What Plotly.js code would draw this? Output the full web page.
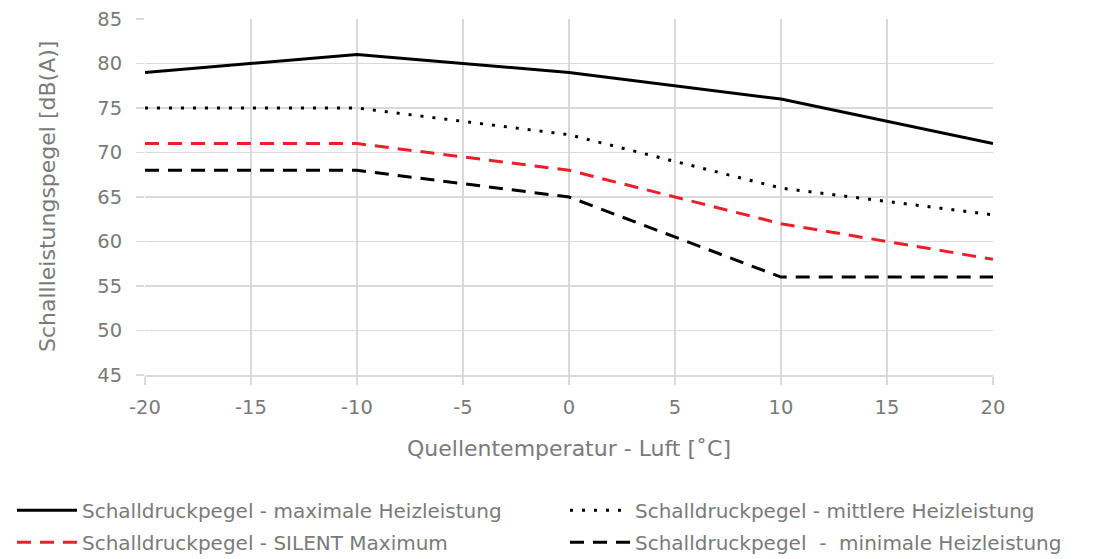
<!DOCTYPE html>
<html><head><meta charset="utf-8">
<script src="https://cdn.plot.ly/plotly-3.0.1.min.js"></script>
<style>body{margin:0}#c{width:1109px;height:559px}</style>
</head><body><div id="c"></div>
<script>
const temps = [-20, -10, 0, 10, 20];
const maxHeiz = [79, 81, 79, 76, 71];
const mittlere = [75, 75, 72, 66, 63];
const silent = [71, 71, 68, 62, 58];
const minimale = [68, 68, 65, 56, 56];
const xTickVals = [-20, -15, -10, -5, 0, 5, 10, 15, 20];
const xTickText = ['-20', '-15', '-10', '-5', '0', '5', '10', '15', '20'];
const names = [
  'Schalldruckpegel - maximale Heizleistung',
  'Schalldruckpegel - mittlere Heizleistung',
  'Schalldruckpegel - SILENT Maximum',
  'Schalldruckpegel  -  minimale Heizleistung'
];
const xTitle = 'Quellentemperatur - Luft [˚C]';
const yTitle = 'Schallleistungspegel [dB(A)]';
const font = 'DejaVu Sans, sans-serif';
const gray = '#7a7a7a';
const traces = [
  {x: temps, y: maxHeiz, name: names[0], legend: 'legend', legendgroup: 'a', mode: 'lines', line: {color: '#000', width: 3}},
  {x: temps, y: mittlere, name: names[1], legend: 'legend2', legendgroup: 'b', mode: 'lines', line: {color: '#000', width: 3, dash: '3px,9px'}},
  {x: temps, y: silent, name: names[2], legend: 'legend', legendgroup: 'c', mode: 'lines', line: {color: '#e8202a', width: 3, dash: '14px,9px'}},
  {x: temps, y: minimale, name: names[3], legend: 'legend2', legendgroup: 'd', mode: 'lines', line: {color: '#000', width: 3, dash: '14px,9px'}}
];
const legBase = {
  orientation: 'v', xref: 'container', yref: 'container', yanchor: 'top', xanchor: 'left',
  y: 0.122, font: {size: 20, color: gray}, tracegroupgap: 3, bgcolor: 'rgba(0,0,0,0)', itemwidth: 60
};
const layout = {
  width: 1109, height: 559,
  margin: {l: 145, r: 116, t: 19, b: 184, autoexpand: false},
  paper_bgcolor: '#fff', plot_bgcolor: '#fff',
  font: {family: font, color: gray, size: 19},
  showlegend: true,
  xaxis: {
    range: [-20, 20], tickmode: 'array', tickvals: xTickVals, ticktext: xTickText,
    showgrid: true, gridcolor: '#d9d9d9', gridwidth: 1.5,
    zeroline: false, showline: true, linecolor: '#d9d9d9', linewidth: 1.5,
    ticks: 'outside', ticklen: 8, tickcolor: '#d9d9d9', tickwidth: 1.5, ticklabelstandoff: 6,
    tickfont: {size: 19.5, color: gray}, fixedrange: true, automargin: false,
    title: {text: xTitle, font: {size: 22, color: gray}, standoff: 22}
  },
  yaxis: {
    range: [45, 85], dtick: 5, showgrid: true, gridcolor: '#d9d9d9', gridwidth: 1.5,
    zeroline: false, showline: false, automargin: false,
    ticks: 'outside', ticklen: 8, tickcolor: '#d9d9d9', tickwidth: 1.5, ticklabelstandoff: 10,
    tickfont: {size: 19.5, color: gray}
  },
  annotations: [{
    text: yTitle, xref: 'paper', yref: 'paper', x: 0, y: 0.5, xanchor: 'center', yanchor: 'middle',
    xshift: -98, textangle: -90, showarrow: false, font: {size: 22, color: gray}
  }],
  legend: Object.assign({}, legBase, {x: 12 / 1109}),
  legend2: Object.assign({}, legBase, {x: 565 / 1109})
};
Plotly.newPlot('c', traces, layout, {displayModeBar: false, staticPlot: true});
</script></body></html>
